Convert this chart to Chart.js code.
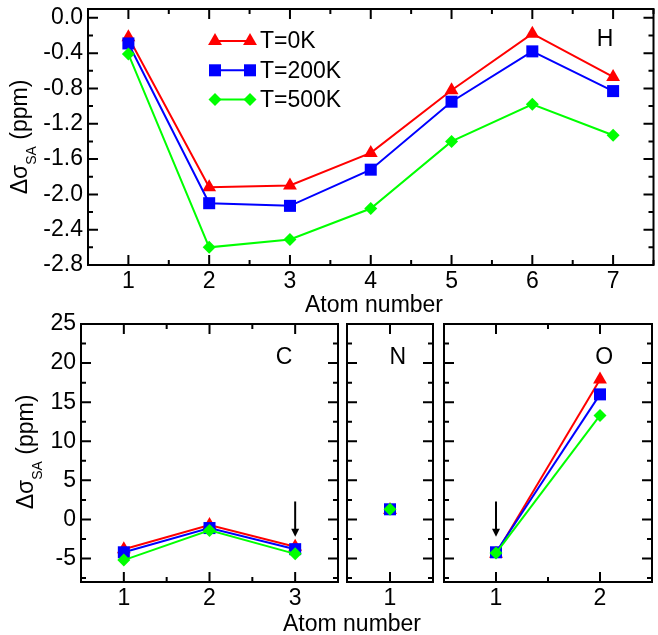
<!DOCTYPE html>
<html>
<head>
<meta charset="utf-8">
<script src="https://cdn.jsdelivr.net/npm/chart.js@4"></script>
<style>
  html, body { margin: 0; padding: 0; background: #fff; overflow: hidden; }
  #wrap { position: relative; width: 658px; height: 635px; overflow: hidden; }
  #wrap canvas { position: absolute; left: 0; top: 0; }
</style>
</head>
<body>
<div id="wrap">
  <canvas id="panelH" width="662" height="635"></canvas>
  <canvas id="panelC" width="662" height="635"></canvas>
  <canvas id="panelN" width="662" height="635"></canvas>
  <canvas id="panelO" width="662" height="635"></canvas>
</div>
<script>
// atom numbers per element
const atomsH = [1, 2, 3, 4, 5, 6, 7];
const atomsC = [1, 2, 3];
const atomsN = [1];
const atomsO = [1, 2];

// delta sigma_SA in ppm, for T = 0K / 200K / 500K
const hT0   = [-0.22, -1.92, -1.90, -1.53, -0.82, -0.18, -0.67];
const hT200 = [-0.29, -2.10, -2.13, -1.72, -0.95, -0.38, -0.83];
const hT500 = [-0.41, -2.60, -2.51, -2.16, -1.40, -0.98, -1.33];

const cT0   = [-3.8, -0.7, -3.5];
const cT200 = [-4.2, -1.1, -3.8];
const cT500 = [-5.2, -1.4, -4.4];

const nT0   = [1.2];
const nT200 = [1.3];
const nT500 = [1.3];

const oT0   = [-4.4, 17.9];
const oT200 = [-4.2, 16.0];
const oT500 = [-4.3, 13.3];

const tempLabels = ['T=0K', 'T=200K', 'T=500K'];

// tick labels
const yTicksH = [-2.8, -2.4, -2.0, -1.6, -1.2, -0.8, -0.4, 0.0];
const yTicksLow = [-5, 0, 5, 10, 15, 20, 25];

const W = 662, H = 635;
const FONT = 'Liberation Sans, Arial, sans-serif';
const styles = [
  { color: '#ff0000', point: 'triangle', radius: 8 },
  { color: '#0000ff', point: 'rect', radius: 8.5 },
  { color: '#00ff00', point: 'rectRot', radius: 6.5 }
];

function toPoints(xs, ys) {
  return xs.map((x, i) => ({ x: x, y: ys[i] }));
}

function makeDatasets(xs, series) {
  return series.map((ys, i) => ({
    label: tempLabels[i],
    data: toPoints(xs, ys),
    borderColor: styles[i].color,
    backgroundColor: styles[i].color,
    borderWidth: 2,
    pointStyle: styles[i].point,
    pointRadius: styles[i].radius,
    pointHoverRadius: styles[i].radius,
    pointBorderWidth: 0,
    order: 3 - i,
    clip: false
  }));
}

// the axis boxes are sized by hand so every panel lands on the same grid
function xAxis(min, max, ticks, boxH) {
  return {
    type: 'linear', min: min, max: max,
    grid: { display: false, drawTicks: false },
    border: { display: false },
    afterBuildTicks: s => { s.ticks = ticks.map(v => ({ value: v })); },
    afterFit: s => { s.height = boxH; s.paddingLeft = 0; s.paddingRight = 0; },
    ticks: {
      autoSkip: false, maxRotation: 0, padding: 3, color: '#000',
      font: { family: FONT, size: 23 },
      callback: v => String(v)
    }
  };
}

function yAxis(min, max, ticks, show, fmt, boxW) {
  return {
    type: 'linear', min: min, max: max,
    grid: { display: false, drawTicks: false },
    border: { display: false },
    afterBuildTicks: s => { s.ticks = ticks.map(v => ({ value: v })); },
    afterFit: s => { s.width = boxW; s.paddingTop = 0; s.paddingBottom = 0; },
    ticks: {
      display: show, autoSkip: false, padding: 5, color: '#000',
      font: { family: FONT, size: 23 },
      callback: fmt
    }
  };
}

// frame, inward ticks on all four sides, titles, labels and arrows
const framePlugin = {
  id: 'frame',
  afterDraw(chart, args, opts) {
    const ctx = chart.ctx;
    const a = chart.chartArea;
    const xs = chart.scales.x, ys = chart.scales.y;
    ctx.save();
    ctx.strokeStyle = '#000';
    ctx.fillStyle = '#000';
    ctx.lineWidth = 2;
    ctx.strokeRect(a.left, a.top, a.right - a.left, a.bottom - a.top);

    const near = (v, list) => list.some(t => Math.abs(t - v) < 1e-6);
    function marks(scale, majors, step) {
      const out = majors.map(v => ({ v: v, len: 10 }));
      let v = Math.ceil(scale.min / step - 1e-6) * step;
      for (; v <= scale.max + 1e-6; v += step) {
        if (!near(v, majors)) out.push({ v: v, len: 5 });
      }
      return out;
    }
    ctx.beginPath();
    marks(xs, opts.xMajor, opts.xMinor).forEach(m => {
      const px = xs.getPixelForValue(m.v);
      ctx.moveTo(px, a.bottom); ctx.lineTo(px, a.bottom - m.len);
      ctx.moveTo(px, a.top); ctx.lineTo(px, a.top + m.len);
    });
    marks(ys, opts.yMajor, opts.yMinor).forEach(m => {
      const py = ys.getPixelForValue(m.v);
      ctx.moveTo(a.left, py); ctx.lineTo(a.left + m.len, py);
      ctx.moveTo(a.right, py); ctx.lineTo(a.right - m.len, py);
    });
    ctx.stroke();

    // element letter
    if (opts.letter) {
      ctx.font = '23px ' + FONT;
      ctx.textAlign = 'center';
      ctx.textBaseline = 'middle';
      ctx.fillText(opts.letter.text,
        xs.getPixelForValue(opts.letter.x), ys.getPixelForValue(opts.letter.y));
    }

    // arrows pointing at an atom
    (opts.arrows || []).forEach(ar => {
      const px = xs.getPixelForValue(ar.x);
      const y1 = ys.getPixelForValue(ar.from), y2 = ys.getPixelForValue(ar.to);
      ctx.lineWidth = 2;
      ctx.beginPath();
      ctx.moveTo(px, y1); ctx.lineTo(px, y2 - 6);
      ctx.stroke();
      ctx.beginPath();
      ctx.moveTo(px, y2); ctx.lineTo(px - 4, y2 - 8); ctx.lineTo(px + 4, y2 - 8);
      ctx.closePath();
      ctx.fill();
    });

    // y title with subscript
    if (opts.yTitle) {
      const t = opts.yTitle;
      ctx.save();
      ctx.translate(t.x, t.y);
      ctx.rotate(-Math.PI / 2);
      ctx.textAlign = 'left';
      ctx.textBaseline = 'alphabetic';
      const big = '23px ' + FONT, small = '14px ' + FONT;
      ctx.font = big; const w1 = ctx.measureText('\u0394\u03c3').width;
      ctx.font = small; const w2 = ctx.measureText('SA').width;
      ctx.font = big; const w3 = ctx.measureText(' (ppm)').width;
      let x0 = -(w1 + w2 + w3) / 2;
      ctx.font = big; ctx.fillText('\u0394\u03c3', x0, 0);
      ctx.font = small; ctx.fillText('SA', x0 + w1, 9);
      ctx.font = big; ctx.fillText(' (ppm)', x0 + w1 + w2, 0);
      ctx.restore();
    }

    // x title
    if (opts.xTitle) {
      ctx.font = '23px ' + FONT;
      ctx.textAlign = 'center';
      ctx.textBaseline = 'alphabetic';
      ctx.fillText(opts.xTitle.text, opts.xTitle.x, opts.xTitle.y);
    }

    // legend: short line with a marker at each end
    if (opts.legend) {
      const L = opts.legend;
      chart.data.datasets.forEach((ds, i) => {
        const y = L.y + i * L.dy;
        ctx.strokeStyle = ds.borderColor;
        ctx.fillStyle = ds.backgroundColor;
        ctx.lineWidth = 2;
        ctx.beginPath();
        ctx.moveTo(L.x1, y); ctx.lineTo(L.x2, y);
        ctx.stroke();
        const ps = { pointStyle: ds.pointStyle, radius: ds.pointRadius, borderWidth: 0 };
        Chart.helpers.drawPoint(ctx, ps, L.x1, y);
        Chart.helpers.drawPoint(ctx, ps, L.x2, y);
        ctx.fillStyle = '#000';
        ctx.font = '23px ' + FONT;
        ctx.textAlign = 'left';
        ctx.textBaseline = 'middle';
        ctx.fillText(ds.label, L.x2 + 10, y + 1);
      });
    }
    ctx.restore();
  }
};

function panel(id, area, xs, series, xRange, xTicks, yRange, yTicks, showY, fmt, extra) {
  new Chart(id, {
    type: 'line',
    data: { datasets: makeDatasets(xs, series) },
    options: {
      responsive: false,
      animation: false,
      devicePixelRatio: 1,
      layout: { padding: { left: 0, top: area.top, right: W - area.right, bottom: 0 } },
      scales: {
        x: xAxis(xRange[0], xRange[1], xTicks, H - area.bottom),
        y: yAxis(yRange[0], yRange[1], yTicks, showY, fmt, area.left)
      },
      plugins: {
        legend: { display: false },
        tooltip: { enabled: false },
        frame: Object.assign({ xMajor: xTicks, yMajor: yTicks }, extra)
      }
    },
    plugins: [framePlugin]
  });
}

const fmtH = v => v.toFixed(1);
const fmtLow = v => String(v);

panel('panelH', { left: 88, top: 9, right: 660, bottom: 265 }, atomsH, [hT0, hT200, hT500],
  [0.5, 7.5], atomsH, [-2.8, 0.1], yTicksH, true, fmtH, {
    xMinor: 0.5, yMinor: 0.2,
    letter: { text: 'H', x: 6.9, y: -0.25 },
    yTitle: { x: 27, y: 137 },
    xTitle: { text: 'Atom number', x: 374, y: 312 },
    legend: { x1: 215, x2: 250, y: 41, dy: 29.3 }
  });

panel('panelC', { left: 81, top: 324, right: 338, bottom: 582 }, atomsC, [cT0, cT200, cT500],
  [0.5, 3.5], atomsC, [-8, 25], yTicksLow, true, fmtLow, {
    xMinor: 0.5, yMinor: 2.5,
    letter: { text: 'C', x: 2.87, y: 20.7 },
    arrows: [{ x: 3, from: 2.3, to: -2.2 }],
    yTitle: { x: 33, y: 452 },
    xTitle: { text: 'Atom number', x: 352, y: 631 }
  });

panel('panelN', { left: 347, top: 324, right: 433, bottom: 582 }, atomsN, [nT0, nT200, nT500],
  [0.5, 1.5], atomsN, [-8, 25], yTicksLow, false, fmtLow, {
    xMinor: 0.5, yMinor: 2.5,
    letter: { text: 'N', x: 1.09, y: 20.7 }
  });

panel('panelO', { left: 444, top: 324, right: 652, bottom: 582 }, atomsO, [oT0, oT200, oT500],
  [0.5, 2.5], atomsO, [-8, 25], yTicksLow, false, fmtLow, {
    xMinor: 0.5, yMinor: 2.5,
    letter: { text: 'O', x: 2.04, y: 20.7 },
    arrows: [{ x: 1, from: 2.3, to: -2.2 }]
  });
</script>
</body>
</html>
